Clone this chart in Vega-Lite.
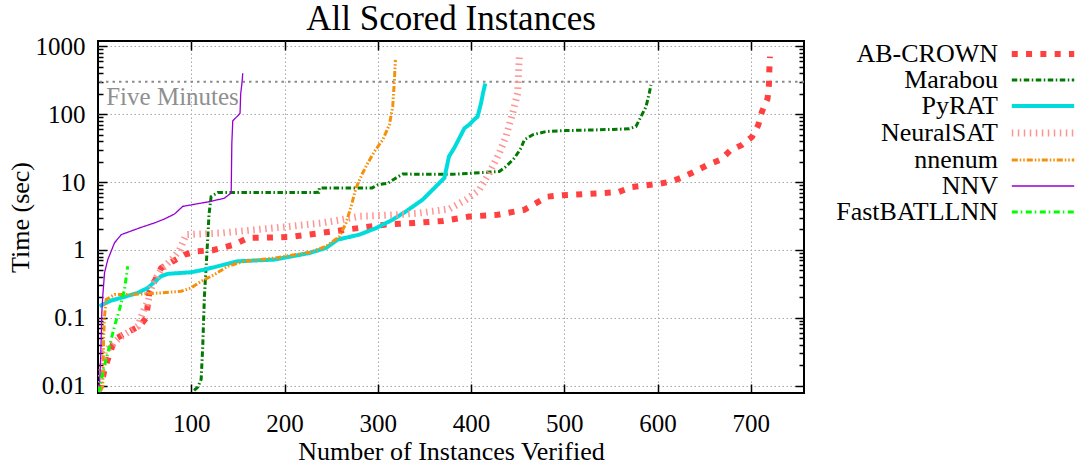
{
  "$schema": "https://vega.github.io/schema/vega-lite/v6.json",
  "width": 706,
  "height": 352,
  "autosize": "none",
  "padding": {"left": 98, "top": 41, "right": 274, "bottom": 75},
  "title": {"text": "All Scored Instances", "font": "Liberation Serif", "fontSize": 35, "fontWeight": "normal", "color": "black", "offset": -3, "anchor": "middle"},
  "config": {
    "view": {"stroke": "black", "strokeWidth": 2},
    "font": "Liberation Serif",
    "axis": {"labelFont": "Liberation Serif", "titleFont": "Liberation Serif", "labelFontSize": 25, "titleFontSize": 26, "titleFontWeight": "normal", "labelColor": "black", "titleColor": "black", "domain": false, "tickColor": "black", "tickWidth": 1.5, "gridColor": "#a8a8a8", "gridDash": [1.5, 2.5], "gridWidth": 1, "labelOverlap": false}
  },
  "resolve": {"axis": {"x": "independent", "y": "independent"}},
  "layer": [
    {
      "data": {"values": [{}]},
      "mark": {"type": "rule", "color": "#8a8a8a", "strokeWidth": 2, "strokeDash": [2.5, 4]},
      "encoding": {
        "y": {"datum": 300, "type": "quantitative", "scale": {"type": "log", "domain": [0.0078, 1197], "nice": false},
          "axis": {"orient": "right", "labels": false, "title": null, "grid": false,
            "values": [0.01,0.02,0.03,0.04,0.05,0.06,0.07,0.08,0.09,0.1,0.2,0.3,0.4,0.5,0.6,0.7,0.8,0.9,1,2,3,4,5,6,7,8,9,10,20,30,40,50,60,70,80,90,100,200,300,400,500,600,700,800,900,1000],
            "tickSize": {"condition": {"test": "abs(log(datum.value)/LN10 - round(log(datum.value)/LN10)) < 0.001", "value": -9}, "value": -5}}}
      }
    },
    {
      "data": {"values": [{}]},
      "mark": {"type": "text", "align": "left", "baseline": "alphabetic", "font": "Liberation Serif", "fontSize": 25, "color": "#8f8f8f"},
      "encoding": {
        "x": {"datum": 8.8, "type": "quantitative", "scale": {"domain": [0, 757], "nice": false, "zero": false},
          "axis": {"orient": "top", "labels": false, "title": null, "grid": false, "values": [100,200,300,400,500,600,700], "tickSize": -9}},
        "y": {"datum": 136.6, "type": "quantitative", "axis": null},
        "text": {"value": "Five Minutes"}
      }
    },
    {
      "data": {"values": [
        {"s":"AB-CROWN","n":1,"t":0.0085},{"s":"AB-CROWN","n":3.4,"t":0.0099},{"s":"AB-CROWN","n":7,"t":0.0174},{"s":"AB-CROWN","n":17.7,"t":0.048},{"s":"AB-CROWN","n":30.2,"t":0.06},{"s":"AB-CROWN","n":44.5,"t":0.075},{"s":"AB-CROWN","n":51.7,"t":0.1},{"s":"AB-CROWN","n":55.2,"t":0.246},{"s":"AB-CROWN","n":67.7,"t":0.54},{"s":"AB-CROWN","n":80.2,"t":0.68},{"s":"AB-CROWN","n":92.7,"t":0.85},{"s":"AB-CROWN","n":105.2,"t":0.95},{"s":"AB-CROWN","n":123,"t":0.99},{"s":"AB-CROWN","n":146.3,"t":1.2},{"s":"AB-CROWN","n":160.6,"t":1.5},{"s":"AB-CROWN","n":205.3,"t":1.55},{"s":"AB-CROWN","n":233.9,"t":1.74},{"s":"AB-CROWN","n":266,"t":1.99},{"s":"AB-CROWN","n":308.9,"t":2.36},{"s":"AB-CROWN","n":339.2,"t":2.5},{"s":"AB-CROWN","n":369.6,"t":2.67},{"s":"AB-CROWN","n":398.2,"t":3.1},{"s":"AB-CROWN","n":428.5,"t":3.3},{"s":"AB-CROWN","n":457.1,"t":3.9},{"s":"AB-CROWN","n":469.7,"t":4.9},{"s":"AB-CROWN","n":482.1,"t":6.1},{"s":"AB-CROWN","n":498.2,"t":6.4},{"s":"AB-CROWN","n":526.8,"t":6.7},{"s":"AB-CROWN","n":557.9,"t":7.1},{"s":"AB-CROWN","n":571.5,"t":8.4},{"s":"AB-CROWN","n":601.1,"t":9.4},{"s":"AB-CROWN","n":616.1,"t":10.3},{"s":"AB-CROWN","n":629.4,"t":12.2},{"s":"AB-CROWN","n":641.8,"t":14.7},{"s":"AB-CROWN","n":653.3,"t":17.8},{"s":"AB-CROWN","n":667.9,"t":21.5},{"s":"AB-CROWN","n":677.9,"t":29.2},{"s":"AB-CROWN","n":690,"t":35},{"s":"AB-CROWN","n":701.1,"t":46},{"s":"AB-CROWN","n":707.9,"t":69},{"s":"AB-CROWN","n":711.9,"t":109},{"s":"AB-CROWN","n":717.9,"t":169},{"s":"AB-CROWN","n":719.4,"t":270},{"s":"AB-CROWN","n":719.8,"t":438},{"s":"AB-CROWN","n":720.5,"t":703},
        {"s":"Marabou","n":103,"t":0.0085},{"s":"Marabou","n":107,"t":0.0095},{"s":"Marabou","n":110.6,"t":0.0124},{"s":"Marabou","n":112.3,"t":0.038},{"s":"Marabou","n":114.1,"t":0.208},{"s":"Marabou","n":117,"t":1.01},{"s":"Marabou","n":119,"t":3.3},{"s":"Marabou","n":121.3,"t":6.1},{"s":"Marabou","n":128.4,"t":7.0},{"s":"Marabou","n":180,"t":7.0},{"s":"Marabou","n":236.7,"t":7.05},{"s":"Marabou","n":237.4,"t":8.2},{"s":"Marabou","n":293.9,"t":8.2},{"s":"Marabou","n":299.9,"t":9.1},{"s":"Marabou","n":310.6,"t":9.6},{"s":"Marabou","n":319.6,"t":11.5},{"s":"Marabou","n":326.7,"t":13.1},{"s":"Marabou","n":380,"t":13.0},{"s":"Marabou","n":430.3,"t":14.3},{"s":"Marabou","n":437.5,"t":16.9},{"s":"Marabou","n":446.4,"t":22.5},{"s":"Marabou","n":453.6,"t":31.6},{"s":"Marabou","n":457.1,"t":41.9},{"s":"Marabou","n":466,"t":49.7},{"s":"Marabou","n":480.4,"t":55.5},{"s":"Marabou","n":501.8,"t":57.4},{"s":"Marabou","n":537.5,"t":58.8},{"s":"Marabou","n":569.7,"t":60.8},{"s":"Marabou","n":576.8,"t":65.8},{"s":"Marabou","n":582.2,"t":92},{"s":"Marabou","n":587.6,"t":129},{"s":"Marabou","n":591.1,"t":204},{"s":"Marabou","n":592.9,"t":270},
        {"s":"PyRAT","n":1.6,"t":0.148},{"s":"PyRAT","n":14.1,"t":0.18},{"s":"PyRAT","n":24.9,"t":0.197},{"s":"PyRAT","n":42.7,"t":0.233},{"s":"PyRAT","n":53.4,"t":0.276},{"s":"PyRAT","n":67.7,"t":0.41},{"s":"PyRAT","n":74.8,"t":0.444},{"s":"PyRAT","n":99.9,"t":0.469},{"s":"PyRAT","n":114.1,"t":0.513},{"s":"PyRAT","n":135.6,"t":0.608},{"s":"PyRAT","n":149.8,"t":0.68},{"s":"PyRAT","n":189.2,"t":0.72},{"s":"PyRAT","n":226.7,"t":0.9},{"s":"PyRAT","n":244.6,"t":1.07},{"s":"PyRAT","n":257,"t":1.42},{"s":"PyRAT","n":280.3,"t":1.68},{"s":"PyRAT","n":298.2,"t":2.1},{"s":"PyRAT","n":316,"t":2.79},{"s":"PyRAT","n":330.3,"t":3.7},{"s":"PyRAT","n":348.1,"t":5.5},{"s":"PyRAT","n":358.8,"t":7.7},{"s":"PyRAT","n":371.4,"t":11.5},{"s":"PyRAT","n":376.3,"t":23.7},{"s":"PyRAT","n":382.1,"t":32},{"s":"PyRAT","n":389.3,"t":49.7},{"s":"PyRAT","n":392.8,"t":62},{"s":"PyRAT","n":398,"t":70},{"s":"PyRAT","n":404,"t":85},{"s":"PyRAT","n":407,"t":92},{"s":"PyRAT","n":410.7,"t":145},{"s":"PyRAT","n":413,"t":210},{"s":"PyRAT","n":415.3,"t":283},
        {"s":"NeuralSAT","n":1,"t":0.009},{"s":"NeuralSAT","n":3.4,"t":0.0138},{"s":"NeuralSAT","n":7,"t":0.031},{"s":"NeuralSAT","n":23,"t":0.051},{"s":"NeuralSAT","n":42.7,"t":0.075},{"s":"NeuralSAT","n":49.8,"t":0.139},{"s":"NeuralSAT","n":53.4,"t":0.17},{"s":"NeuralSAT","n":58.7,"t":0.32},{"s":"NeuralSAT","n":67.7,"t":0.51},{"s":"NeuralSAT","n":82,"t":0.8},{"s":"NeuralSAT","n":87.4,"t":1.0},{"s":"NeuralSAT","n":94.5,"t":1.68},{"s":"NeuralSAT","n":133.8,"t":1.78},{"s":"NeuralSAT","n":169.6,"t":1.99},{"s":"NeuralSAT","n":205.3,"t":2.22},{"s":"NeuralSAT","n":241,"t":2.5},{"s":"NeuralSAT","n":280.3,"t":3.12},{"s":"NeuralSAT","n":316,"t":3.27},{"s":"NeuralSAT","n":344.6,"t":3.5},{"s":"NeuralSAT","n":376.7,"t":4.0},{"s":"NeuralSAT","n":394.6,"t":5.5},{"s":"NeuralSAT","n":408.9,"t":7.7},{"s":"NeuralSAT","n":419.6,"t":13.6},{"s":"NeuralSAT","n":430.3,"t":26.7},{"s":"NeuralSAT","n":437.5,"t":46.9},{"s":"NeuralSAT","n":444.6,"t":103},{"s":"NeuralSAT","n":450,"t":204},{"s":"NeuralSAT","n":451,"t":448},{"s":"NeuralSAT","n":451.8,"t":703},
        {"s":"nnenum","n":2,"t":0.0085},{"s":"nnenum","n":5.1,"t":0.0099},{"s":"nnenum","n":6,"t":0.048},{"s":"nnenum","n":7,"t":0.106},{"s":"nnenum","n":8.8,"t":0.186},{"s":"nnenum","n":17.7,"t":0.22},{"s":"nnenum","n":35.6,"t":0.22},{"s":"nnenum","n":67.7,"t":0.233},{"s":"nnenum","n":89.2,"t":0.246},{"s":"nnenum","n":99.9,"t":0.276},{"s":"nnenum","n":110.6,"t":0.345},{"s":"nnenum","n":124.9,"t":0.434},{"s":"nnenum","n":139.1,"t":0.574},{"s":"nnenum","n":157,"t":0.68},{"s":"nnenum","n":189.2,"t":0.76},{"s":"nnenum","n":226.7,"t":0.92},{"s":"nnenum","n":244.6,"t":1.13},{"s":"nnenum","n":258.9,"t":1.58},{"s":"nnenum","n":266,"t":2.5},{"s":"nnenum","n":271.4,"t":4.4},{"s":"nnenum","n":276.7,"t":8.2},{"s":"nnenum","n":283.8,"t":13.6},{"s":"nnenum","n":289.2,"t":19},{"s":"nnenum","n":296.4,"t":28.2},{"s":"nnenum","n":305.3,"t":41.9},{"s":"nnenum","n":312.4,"t":69.7},{"s":"nnenum","n":316,"t":129},{"s":"nnenum","n":317.8,"t":319},{"s":"nnenum","n":318.9,"t":630},
        {"s":"NNV","n":1.2,"t":0.008},{"s":"NNV","n":2.7,"t":0.022},{"s":"NNV","n":3.4,"t":0.048},{"s":"NNV","n":4.1,"t":0.119},{"s":"NNV","n":5.1,"t":0.208},{"s":"NNV","n":7,"t":0.46},{"s":"NNV","n":10.5,"t":0.72},{"s":"NNV","n":17.7,"t":1.27},{"s":"NNV","n":24.9,"t":1.68},{"s":"NNV","n":46.3,"t":2.15},{"s":"NNV","n":60.6,"t":2.5},{"s":"NNV","n":71.3,"t":2.86},{"s":"NNV","n":82,"t":3.38},{"s":"NNV","n":90.9,"t":4.38},{"s":"NNV","n":107,"t":4.8},{"s":"NNV","n":121.3,"t":5.19},{"s":"NNV","n":135.6,"t":5.8},{"s":"NNV","n":142.8,"t":6.9},{"s":"NNV","n":143.5,"t":37},{"s":"NNV","n":144.5,"t":80},{"s":"NNV","n":150,"t":95},{"s":"NNV","n":152.3,"t":103},{"s":"NNV","n":153,"t":200},{"s":"NNV","n":154.5,"t":300},{"s":"NNV","n":155.2,"t":400},
        {"s":"FastBATLLNN","n":1,"t":0.008},{"s":"FastBATLLNN","n":5.1,"t":0.0155},{"s":"FastBATLLNN","n":8.8,"t":0.0244},{"s":"FastBATLLNN","n":12.3,"t":0.038},{"s":"FastBATLLNN","n":17.7,"t":0.075},{"s":"FastBATLLNN","n":23,"t":0.132},{"s":"FastBATLLNN","n":28.4,"t":0.26},{"s":"FastBATLLNN","n":31.9,"t":0.574}
      ]},
      "mark": {"type": "line", "clip": true},
      "encoding": {
        "x": {"field": "n", "type": "quantitative", "scale": {"domain": [0, 757], "nice": false, "zero": false},
          "axis": {"orient": "bottom", "values": [100,200,300,400,500,600,700], "tickSize": -9, "labelPadding": 27, "title": "Number of Instances Verified", "titlePadding": 2, "grid": true}},
        "y": {"field": "t", "type": "quantitative", "scale": {"type": "log", "domain": [0.0078, 1197], "nice": false},
          "axis": {"orient": "left", "title": "Time (sec)", "titlePadding": 2, "grid": true,
            "values": [0.01,0.02,0.03,0.04,0.05,0.06,0.07,0.08,0.09,0.1,0.2,0.3,0.4,0.5,0.6,0.7,0.8,0.9,1,2,3,4,5,6,7,8,9,10,20,30,40,50,60,70,80,90,100,200,300,400,500,600,700,800,900,1000],
            "tickSize": {"condition": {"test": "abs(log(datum.value)/LN10 - round(log(datum.value)/LN10)) < 0.001", "value": -9}, "value": -5},
            "gridColor": {"condition": {"test": "abs(log(datum.value)/LN10 - round(log(datum.value)/LN10)) < 0.001", "value": "#a8a8a8"}, "value": "transparent"},
            "labelExpr": "abs(log(datum.value)/LN10 - round(log(datum.value)/LN10)) < 0.001 ? format(datum.value, '~g') : ''",
            "labelPadding": 22}},
        "color": {"field": "s", "type": "nominal",
          "scale": {"domain": ["AB-CROWN","Marabou","PyRAT","NeuralSAT","nnenum","NNV","FastBATLLNN"], "range": ["#ff4040","#007a00","#00dcdc","#ff9494","#f5900a","#9400d3","#00ff00"]},
          "legend": {"title": null, "orient": "none", "legendX": 932, "legendY": 0, "padding": 0, "symbolType": "M-5,0H5", "symbolSize": 156, "labelAlign": "right", "labelOffset": -58, "labelFont": "Liberation Serif", "labelFontSize": 26, "labelLimit": 400, "rowPadding": 0, "labelColor": "black", "symbolFillColor": "transparent",
            "encode": {"symbols": {"update": {"strokeWidth": {"signal": "datum.value === 'AB-CROWN' ? 6 : datum.value === 'PyRAT' ? 4 : datum.value === 'NeuralSAT' ? 7 : datum.value === 'NNV' ? 1.3 : 3"}}}}}},
        "strokeDash": {"field": "s", "type": "nominal",
          "scale": {"domain": ["AB-CROWN","Marabou","PyRAT","NeuralSAT","nnenum","NNV","FastBATLLNN"], "range": [[6,8.3],[5.5,2.5,1.5,2.5],[1,0],[1.5,4.5],[6,2,1.5,2,1.5,2],[1,0],[6,3,1.5,3.5]]}},
        "strokeWidth": {"condition": [
          {"test": "datum.s === 'AB-CROWN'", "value": 6},
          {"test": "datum.s === 'PyRAT'", "value": 4},
          {"test": "datum.s === 'NeuralSAT'", "value": 7},
          {"test": "datum.s === 'NNV'", "value": 1.3}], "value": 3}
      }
    }
  ]
}
